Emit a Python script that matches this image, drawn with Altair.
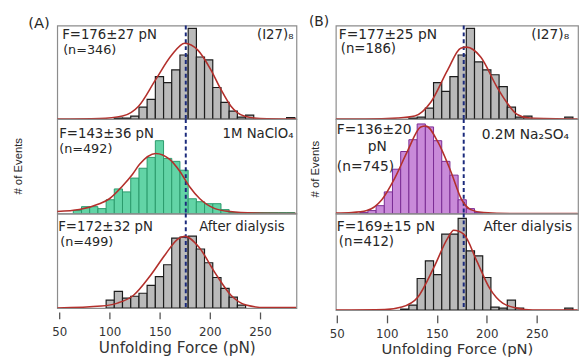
import altair as alt
import pandas as pd

# ---------------- data ----------------
# Panel A: bin left edges (pN) and bar heights (arbitrary units, as read)
A_BINS = [64.0, 72.2, 80.3, 88.5, 96.7, 104.8, 113.0, 121.2, 129.4, 137.5, 145.7, 153.9,
          162.0, 170.2, 178.4, 186.5, 194.7, 202.9, 211.0, 219.2, 227.4, 235.5, 243.7,
          251.9, 260.0, 268.2, 276.4]
A_BIN_W = 8.17
A_TOP_N = [0, 0, 0, 0, 0, 1, 1, 3, 12, 20, 43, 37, 50, 65, 92, 63, 60, 32, 17, 8, 2, 4, 0, 0, 0, 0, 1.5]
A_MID_N = [3, 7, 7, 5, 14, 25, 22, 36, 46, 57, 74, 56, 53, 44, 15, 12, 10, 10, 4, 1, 1, 1, 1, 1, 1, 1, 1]
A_BOT_N = [0, 0, 0, 0, 8, 17, 10, 12, 15, 23, 32, 44, 71, 72, 73, 60, 46, 31, 20, 11, 3, 0, 0, 0, 0, 0, 0]

A_TOP_FIT_X = [48, 90, 113, 129, 146, 162, 175, 188, 201, 211, 221, 234, 250, 286]
A_TOP_FIT_Y = [0, 0.5, 3, 13, 40, 65, 77, 70, 50, 30, 13, 3, 0.5, 0]
A_MID_FIT_X = [48, 70, 90, 100, 113, 123, 130, 146, 160, 170, 180, 190, 205, 220, 245, 286]
A_MID_FIT_Y = [2, 4, 10, 15, 28, 40, 50, 61, 55, 43, 27, 15, 5, 2, 0.5, 0]
A_BOT_FIT_X = [48, 92, 108, 124, 140, 156, 168, 175, 189, 205, 221, 236, 255, 286]
A_BOT_FIT_Y = [0, 2, 5, 13, 32, 55, 70, 73, 62, 36, 13, 3, 0.5, 0.5]

# Panel B
B_BINS = [72.9, 81.1, 89.3, 97.5, 105.7, 113.9, 122.1, 130.4, 138.6, 146.8, 155.0, 163.2,
          171.4, 179.6, 187.8, 196.0, 204.2, 212.4, 220.6, 228.8, 237.1, 245.3, 253.5,
          261.7, 269.9, 278.1, 286.3]
B_BIN_W = 8.21
B_TOP_N = [0, 0, 0, 0, 0, 0, 1, 2, 11, 37, 28, 43, 65, 92, 58, 50, 45, 33, 12, 2, 3, 0, 0, 0, 0, 2, 0]
B_MID_N = [1, 3, 8, 22, 45, 63, 75, 91, 88, 74, 53, 39, 14, 5, 1, 0, 0, 0, 0, 0, 0, 0, 0, 0, 0, 0, 0]
B_BOT_N = [0, 0, 0, 0, 0, 1, 5, 32, 50, 36, 77, 77, 93, 60, 55, 33, 3, 2, 10, 2, 0, 0, 0, 0, 0, 2, 0]

B_TOP_FIT_X = [49, 79, 111, 128, 144, 161, 174, 180, 194, 210, 220, 230, 243, 291]
B_TOP_FIT_Y = [0, 0, 1, 3, 17, 50, 72, 73, 63, 33, 17, 5, 1, 0]
B_MID_FIT_X = [49, 65, 80, 95, 108, 121, 134, 139, 151, 164, 175, 184, 197, 229, 291]
B_MID_FIT_Y = [0.5, 1, 3, 14, 36, 64, 88, 89, 73, 43, 14, 4, 1, 0, 0]
B_BOT_FIT_X = [49, 98, 115, 131, 147, 161, 167, 177, 190, 203, 216, 230, 246, 291]
B_BOT_FIT_Y = [0, 0.5, 3, 13, 43, 73, 81, 77, 50, 22, 7, 2, 0, 0]

A_MEAN_LINE = 176
B_MEAN_LINE = 177
X_TICKS = [50, 100, 150, 200, 250]

FONT = "DejaVu Sans"
TXT = "#262626"
GRAY = dict(fill="#bababa", stroke="#1c1c1c", strokeWidth=1.2)
GREEN = dict(fill="#62d4a6", stroke="#2b9a6c", strokeWidth=1.0)
PURPLE = dict(fill="#c98ad9", stroke="#7a2c93", strokeWidth=1.0)
FIT_COLOR = "#b3302c"
DASH_COLOR = "#1b2a7c"


def subplot(bins, bw, counts, fx, fy, style, mean_line, xdom, w, h, axis, texts):
    xs = alt.Scale(domain=xdom, nice=False, zero=False)
    ys = alt.Scale(domain=[0, h], nice=False)
    df = pd.DataFrame({"lo": bins, "hi": [b + bw for b in bins], "n": counts,
                       "z": [0] * len(bins)})
    df = df[df["n"] > 0]
    bars = alt.Chart(df).mark_bar(clip=True, **style).encode(
        x=alt.X("lo:Q", scale=xs, axis=axis),
        x2="hi:Q",
        y=alt.Y("n:Q", scale=ys, axis=None),
        y2="z:Q",
    )
    rule = alt.Chart(pd.DataFrame({"lo": [mean_line]})).mark_rule(
        color=DASH_COLOR, strokeDash=[4, 3], strokeWidth=2
    ).encode(x=alt.X("lo:Q", scale=xs, axis=axis))
    fit = alt.Chart(pd.DataFrame({"lo": fx, "n": fy})).mark_line(
        color=FIT_COLOR, strokeWidth=1.6, interpolate="monotone", clip=True
    ).encode(x=alt.X("lo:Q", scale=xs, axis=axis), y=alt.Y("n:Q", scale=ys, axis=None))
    layers = [bars, rule, fit]
    one = pd.DataFrame({"k": [0]})
    for t in texts:
        props = dict(text=t["text"], align=t.get("align", "left"), baseline="middle",
                     font=t.get("font", FONT), fontSize=t.get("size", 13), color=TXT)
        if "angle" in t:
            props["angle"] = t["angle"]
        layers.append(alt.Chart(one).mark_text(**props).encode(
            x=alt.value(t["x"]), y=alt.value(t["y"])))
    return alt.layer(*layers).properties(width=w, height=h)


def x_axis(tick_off, tick_size, lab_pad, title_size, title_pad):
    return alt.Axis(values=X_TICKS, domain=False, grid=False, offset=tick_off,
                    tickSize=tick_size, tickColor="#555555", tickWidth=1.3,
                    labelFont=FONT, labelFontSize=12, labelColor="#333333",
                    labelPadding=lab_pad, title="Unfolding Force (pN)",
                    titleFont=FONT, titleFontSize=title_size, titleFontWeight="normal",
                    titleColor="#333333", titlePadding=title_pad)


A_DOM = [48, 286.2]
B_DOM = [49, 291.4]
AW, BW = 243, 246

a1 = subplot(A_BINS, A_BIN_W, A_TOP_N, A_TOP_FIT_X, A_TOP_FIT_Y, GRAY, A_MEAN_LINE, A_DOM, AW, 95, None, [
    {"text": "(A)", "x": -18.5, "y": -2, "align": "center", "size": 15},
    {"text": "F=176±27 pN", "x": 5, "y": 10, "size": 13.5},
    {"text": "(n=346)", "x": 6, "y": 25},
    {"text": "(I27)₈", "x": 240, "y": 10, "align": "right", "size": 13.5},
])
a2 = subplot(A_BINS, A_BIN_W, A_MID_N, A_MID_FIT_X, A_MID_FIT_Y, GREEN, A_MEAN_LINE, A_DOM, AW, 96, None, [
    {"text": "F=143±36 pN", "x": 2, "y": 15, "size": 13.5},
    {"text": "(n=492)", "x": 2, "y": 31},
    {"text": "1M NaClO₄", "x": 240, "y": 15, "align": "right", "size": 13.5},
    {"text": "# of Events", "x": -39, "y": 48, "align": "center", "angle": 270,
     "font": "Liberation Sans", "size": 11.5},
])
a3 = subplot(A_BINS, A_BIN_W, A_BOT_N, A_BOT_FIT_X, A_BOT_FIT_Y, GRAY, A_MEAN_LINE, A_DOM, AW, 96,
             x_axis(4, 7, 8, 15.5, 3), [
    {"text": "F=172±32 pN", "x": 1, "y": 13.5, "size": 13.5},
    {"text": "(n=499)", "x": 3, "y": 29},
    {"text": "After dialysis", "x": 231, "y": 13.5, "align": "right", "size": 13.5},
])

b1 = subplot(B_BINS, B_BIN_W, B_TOP_N, B_TOP_FIT_X, B_TOP_FIT_Y, GRAY, B_MEAN_LINE, B_DOM, BW, 95, None, [
    {"text": "(B)", "x": -17, "y": -3, "align": "center", "size": 14},
    {"text": "F=177±25 pN", "x": 3, "y": 10, "size": 14},
    {"text": "(n=186)", "x": 5, "y": 24, "size": 13.5},
    {"text": "(I27)₈", "x": 237, "y": 10, "align": "right", "size": 14},
])
b2 = subplot(B_BINS, B_BIN_W, B_MID_N, B_MID_FIT_X, B_MID_FIT_Y, PURPLE, B_MEAN_LINE, B_DOM, BW, 96, None, [
    {"text": "F=136±20", "x": 1, "y": 11, "size": 14},
    {"text": "pN", "x": 42, "y": 28, "align": "center", "size": 14},
    {"text": "(n=745)", "x": 1, "y": 49, "size": 14},
    {"text": "0.2M Na₂SO₄", "x": 237, "y": 16, "align": "right", "size": 14},
    {"text": "# of Events", "x": -20, "y": 51, "align": "center", "angle": 270,
     "font": "Liberation Sans", "size": 11.5},
])
b3 = subplot(B_BINS, B_BIN_W, B_BOT_N, B_BOT_FIT_X, B_BOT_FIT_Y, GRAY, B_MEAN_LINE, B_DOM, BW, 98,
             x_axis(5, 8, 6, 15, 2), [
    {"text": "F=169±15 pN", "x": 1, "y": 14, "size": 14},
    {"text": "(n=412)", "x": 3, "y": 28.5, "size": 13.5},
    {"text": "After dialysis", "x": 240, "y": 14, "align": "right", "size": 14},
])

chart = alt.concat(a1, b1, a2, b2, a3, b3, columns=2,
                   spacing={"row": 0, "column": 40}, bounds="flush").properties(
    padding={"left": 4, "top": 4, "right": 0, "bottom": 0}
).configure_view(stroke="#8c8c8c", strokeWidth=1.2)

chart.save("out.html", embed_options={"renderer": "svg", "actions": False})
